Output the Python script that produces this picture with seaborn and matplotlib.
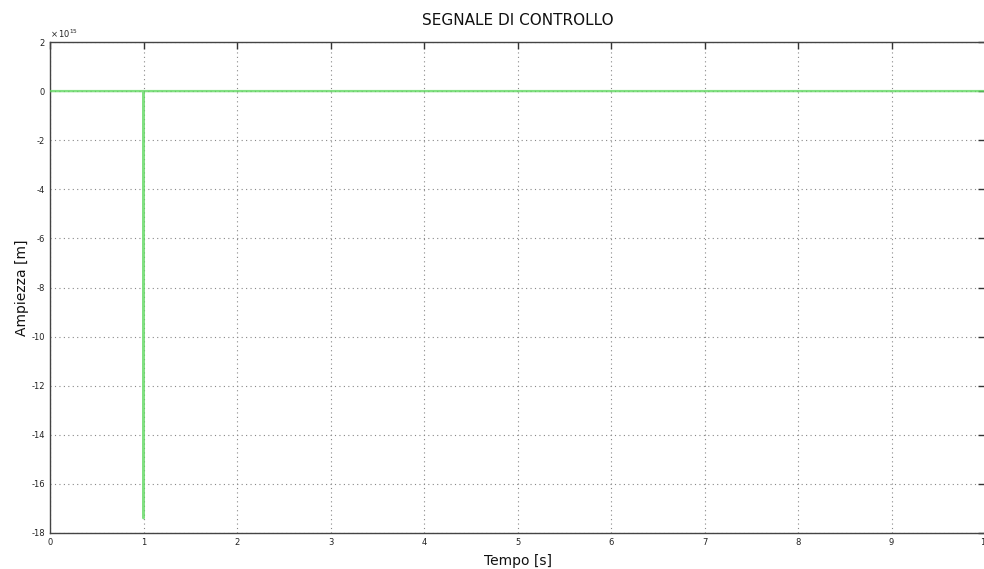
import matplotlib
matplotlib.use("Agg")
import matplotlib.pyplot as plt
import numpy as np
import pandas as pd
import seaborn as sns

# Control signal samples (time in s, amplitude in m)
tempo = [0.0, 0.999, 1.0, 1.0005, 1.0, 1.001, 10.0]
ampiezza = [0.0, 0.0, -8.7e15, 0.0, -17.4e15, 0.0, 0.0]

x_ticks = [0, 1, 2, 3, 4, 5, 6, 7, 8, 9, 10]
y_ticks = [2, 0, -2, -4, -6, -8, -10, -12, -14, -16, -18]

df = pd.DataFrame({"Tempo": tempo, "Ampiezza": ampiezza})

sns.set_theme(style="white")
plt.rcParams["font.family"] = ["DejaVu Sans"]

fig = plt.figure(figsize=(9.84, 5.69), dpi=100)
ax = fig.add_axes([50 / 984, 1 - 533 / 569, 935 / 984, 491 / 569])
ax.set_axisbelow(True)

sns.lineplot(data=df, x="Tempo", y="Ampiezza", ax=ax, sort=False,
             estimator=None, color="#5fd85f", alpha=0.78, linewidth=1.7,
             zorder=3)

ax.set_xlim(0, 10)
ax.set_ylim(-18e15, 2e15)
ax.set_xticks(x_ticks)
ax.set_yticks([v * 1e15 for v in y_ticks])
ax.set_xticklabels([str(v) for v in x_ticks])
ax.set_yticklabels([str(v) for v in y_ticks])

ax.grid(True, linestyle=(0, (1, 3)), color="#888888", linewidth=0.8, zorder=0)
ax.tick_params(direction="in", length=5, width=1, colors="#333333",
               labelsize=6, top=True, right=True, labelcolor="#222222")
for s in ax.spines.values():
    s.set_color("#444444")
    s.set_linewidth(1.0)

ax.text(0.0, 1.004, r"$\times\,10^{15}$", transform=ax.transAxes,
        fontsize=6, ha="left", va="bottom", color="#222222")

ax.set_title("SEGNALE DI CONTROLLO", fontsize=11, pad=12, color="#111111")
ax.set_xlabel("Tempo [s]", fontsize=10, labelpad=5, color="#111111")
ax.set_ylabel("Ampiezza [m]", fontsize=10, labelpad=2, color="#111111")

fig.savefig("out.png", dpi=100)
